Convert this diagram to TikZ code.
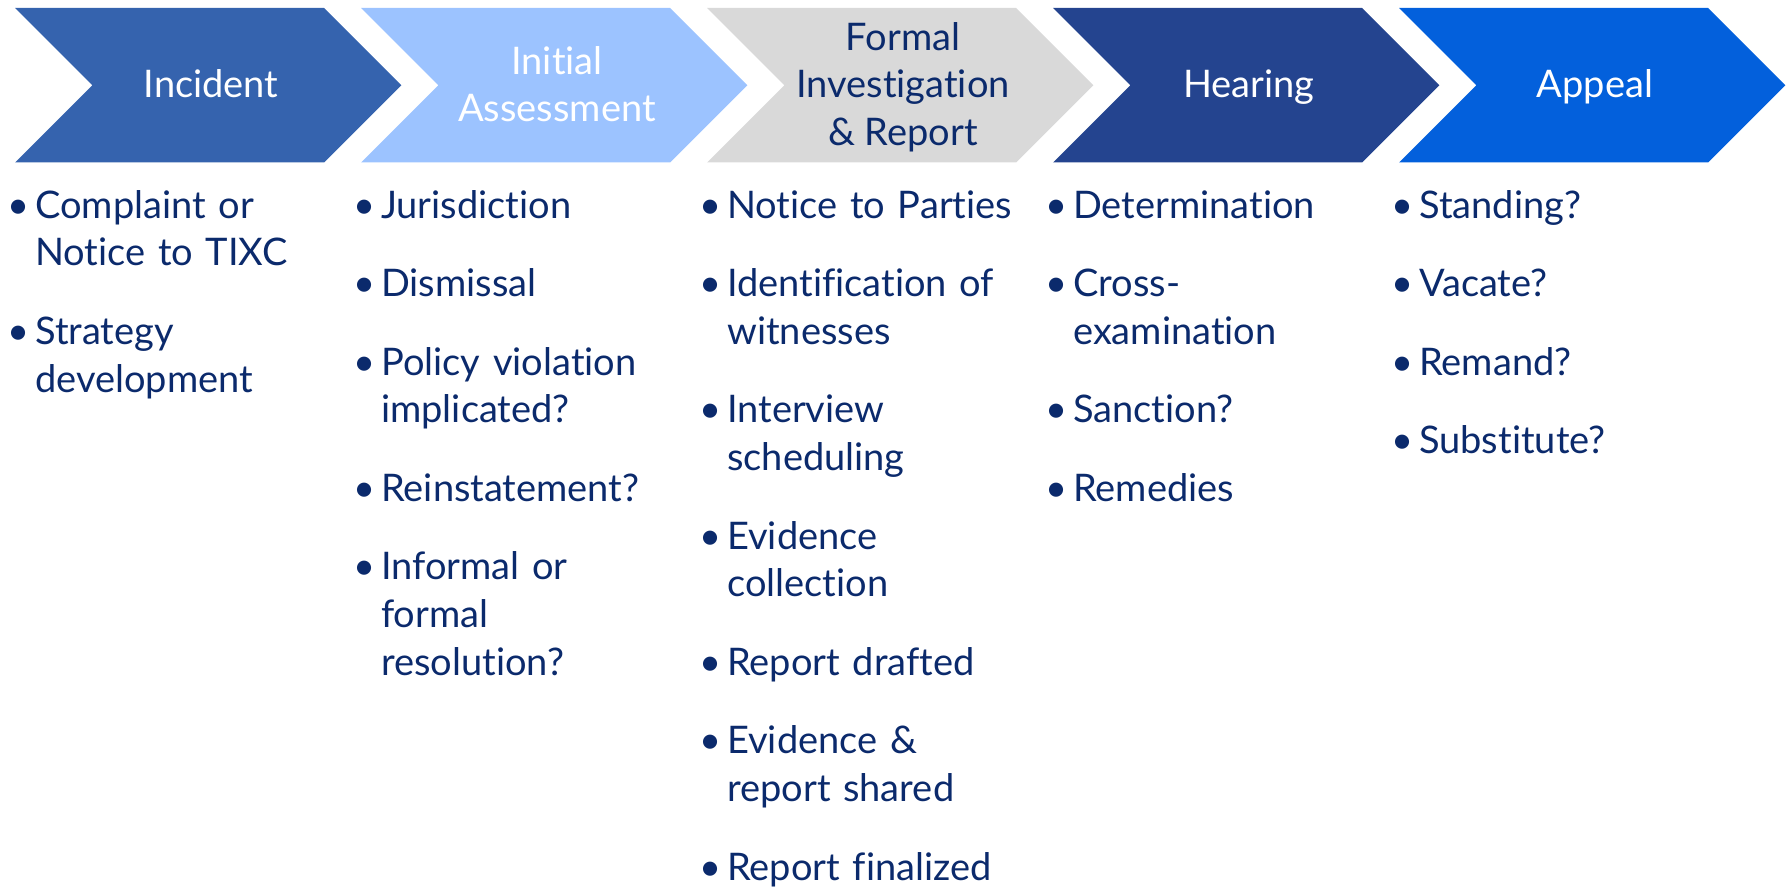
\documentclass[tikz,border=0pt]{standalone}
\usepackage{fontspec}
\setmainfont{Lato}[Ligatures=NoCommon]
\setlength{\parindent}{0pt}
\definecolor{cA}{HTML}{3563AE}
\definecolor{cB}{HTML}{9CC3FF}
\definecolor{cC}{HTML}{D9D9D9}
\definecolor{cD}{HTML}{24448F}
\definecolor{cE}{HTML}{0360DC}
\definecolor{navy}{HTML}{0B2A6C}
\newcommand\chevshape[2]{\fill[#2] (#1,8) -- ++(309,0) -- ++(77.25,77.25) -- ++(-77.25,77.25) -- ++(-309,0) -- ++(77.25,-77.25) -- cycle;}
\newcommand\bodyfont{\fontsize{38}{47.7}\selectfont}
\newcommand\itm[1]{\hangindent=24pt\hangafter=1\noindent\makebox[24pt][l]{\hspace{-4pt}\textbullet}#1\par}
\newcommand\gap{\vspace{30.8pt}}
\newcommand\tp{\rule{0pt}{30pt}}
\tikzset{
  ttl/.style={anchor=north, align=center, inner sep=0pt, font=\bodyfont},
  col/.style={anchor=north west, inner sep=0pt, text width=340pt, align=left, font=\bodyfont, text=navy},
}
\begin{document}
\begin{tikzpicture}[x=1pt,y=-1pt]
\useasboundingbox (0,0) rectangle (1791,888);
\chevshape{15}{cA}
\chevshape{361}{cB}
\chevshape{707}{cC}
\chevshape{1053}{cD}
\chevshape{1399}{cE}
\node[ttl, text=white] (t1) at (211,67.7) {\tp Incident};
\node[ttl, text=white] (t2) at (557,43.85) {\tp Initial\\Assessment};
\node[ttl, text=navy] (t3) at (903,20) {\tp Formal\\Investigation\\\& Report};
\node[ttl, text=white] (t4) at (1249,67.7) {\tp Hearing};
\node[ttl, text=white] (t5) at (1595,67.7) {\tp Appeal};
\node[col] (c1) at (11,188) {\itm{\tp Complaint or\newline Notice to TIXC}\gap
  \itm{Strategy\newline development}};
\node[col] (c2) at (357,188) {\itm{\tp Jurisdiction}\gap
  \itm{Dismissal}\gap
  \itm{Policy violation\newline implicated?}\gap
  \itm{Reinstatement?}\gap
  \itm{Informal or\newline formal\newline resolution?}};
\node[col] (c3) at (703,188) {\itm{\tp Notice to Parties}\gap
  \itm{Identification of\newline witnesses}\gap
  \itm{Interview\newline scheduling}\gap
  \itm{Evidence\newline collection}\gap
  \itm{Report drafted}\gap
  \itm{Evidence \&\newline report shared}\gap
  \itm{Report finalized}};
\node[col] (c4) at (1049,188) {\itm{\tp Determination}\gap
  \itm{Cross-\newline examination}\gap
  \itm{Sanction?}\gap
  \itm{Remedies}};
\node[col] (c5) at (1395,188) {\itm{\tp Standing?}\gap
  \itm{Vacate?}\gap
  \itm{Remand?}\gap
  \itm{Substitute?}};
\end{tikzpicture}
\end{document}
